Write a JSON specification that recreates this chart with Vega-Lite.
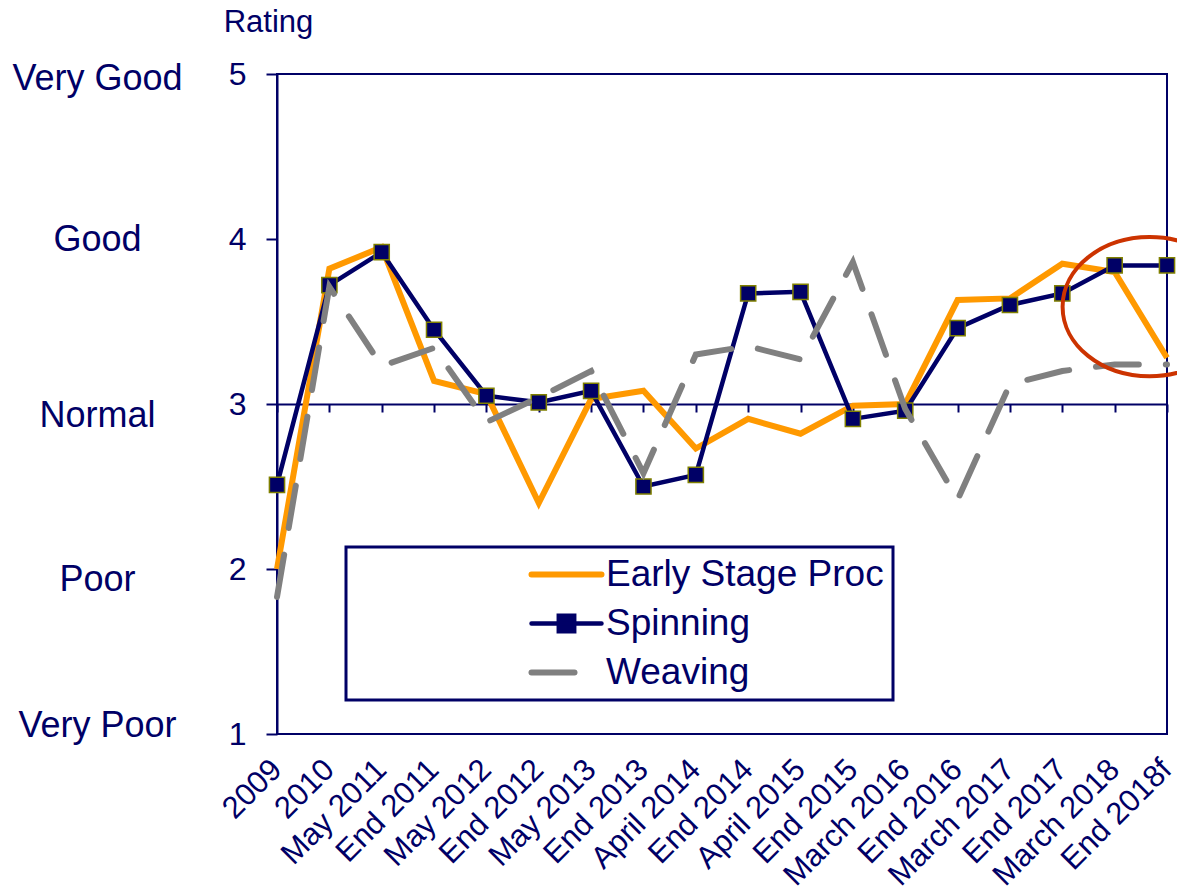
{
  "$schema": "https://vega.github.io/schema/vega-lite/v6.json",
  "width": 890,
  "height": 660,
  "autosize": {"type": "none"},
  "padding": {"left": 277, "top": 74, "right": 10, "bottom": 162},
  "background": "white",
  "config": {
    "font": "Liberation Sans",
    "view": {"stroke": "#000066", "strokeWidth": 2}
  },
  "datasets": {
    "ratings": [
      {"period": "2009", "series": "Early Stage Proc", "value": 2.0},
      {"period": "2010", "series": "Early Stage Proc", "value": 3.82},
      {"period": "May 2011", "series": "Early Stage Proc", "value": 3.95},
      {"period": "End 2011", "series": "Early Stage Proc", "value": 3.14},
      {"period": "May 2012", "series": "Early Stage Proc", "value": 3.06},
      {"period": "End 2012", "series": "Early Stage Proc", "value": 2.40},
      {"period": "May 2013", "series": "Early Stage Proc", "value": 3.03},
      {"period": "End 2013", "series": "Early Stage Proc", "value": 3.08},
      {"period": "April 2014", "series": "Early Stage Proc", "value": 2.73},
      {"period": "End 2014", "series": "Early Stage Proc", "value": 2.91},
      {"period": "April 2015", "series": "Early Stage Proc", "value": 2.82},
      {"period": "End 2015", "series": "Early Stage Proc", "value": 2.99},
      {"period": "March 2016", "series": "Early Stage Proc", "value": 3.0},
      {"period": "End 2016", "series": "Early Stage Proc", "value": 3.63},
      {"period": "March 2017", "series": "Early Stage Proc", "value": 3.64},
      {"period": "End 2017", "series": "Early Stage Proc", "value": 3.85},
      {"period": "March 2018", "series": "Early Stage Proc", "value": 3.80},
      {"period": "End 2018f", "series": "Early Stage Proc", "value": 3.28},
      {"period": "2009", "series": "Spinning", "value": 2.51},
      {"period": "2010", "series": "Spinning", "value": 3.72},
      {"period": "May 2011", "series": "Spinning", "value": 3.92},
      {"period": "End 2011", "series": "Spinning", "value": 3.45},
      {"period": "May 2012", "series": "Spinning", "value": 3.05},
      {"period": "End 2012", "series": "Spinning", "value": 3.01},
      {"period": "May 2013", "series": "Spinning", "value": 3.08},
      {"period": "End 2013", "series": "Spinning", "value": 2.50},
      {"period": "April 2014", "series": "Spinning", "value": 2.57},
      {"period": "End 2014", "series": "Spinning", "value": 3.67},
      {"period": "April 2015", "series": "Spinning", "value": 3.68},
      {"period": "End 2015", "series": "Spinning", "value": 2.91},
      {"period": "March 2016", "series": "Spinning", "value": 2.96},
      {"period": "End 2016", "series": "Spinning", "value": 3.46},
      {"period": "March 2017", "series": "Spinning", "value": 3.60},
      {"period": "End 2017", "series": "Spinning", "value": 3.67},
      {"period": "March 2018", "series": "Spinning", "value": 3.84},
      {"period": "End 2018f", "series": "Spinning", "value": 3.84},
      {"period": "2009", "series": "Weaving", "value": 1.83},
      {"period": "2010", "series": "Weaving", "value": 3.71},
      {"period": "May 2011", "series": "Weaving", "value": 3.23},
      {"period": "End 2011", "series": "Weaving", "value": 3.34},
      {"period": "May 2012", "series": "Weaving", "value": 2.89},
      {"period": "End 2012", "series": "Weaving", "value": 3.04},
      {"period": "May 2013", "series": "Weaving", "value": 3.20},
      {"period": "End 2013", "series": "Weaving", "value": 2.58},
      {"period": "April 2014", "series": "Weaving", "value": 3.30},
      {"period": "End 2014", "series": "Weaving", "value": 3.35},
      {"period": "April 2015", "series": "Weaving", "value": 3.27},
      {"period": "End 2015", "series": "Weaving", "value": 3.86},
      {"period": "March 2016", "series": "Weaving", "value": 2.97},
      {"period": "End 2016", "series": "Weaving", "value": 2.42},
      {"period": "March 2017", "series": "Weaving", "value": 3.12},
      {"period": "End 2017", "series": "Weaving", "value": 3.20},
      {"period": "March 2018", "series": "Weaving", "value": 3.24},
      {"period": "End 2018f", "series": "Weaving", "value": 3.24}
    ],
    "highlight": [
      {"period": "End 2018f", "value": 3.59}
    ]
  },
  "resolve": {"axis": {"y": "independent"}},
  "layer": [
    {
      "data": {"name": "ratings"},
      "transform": [{"filter": "datum.series === 'Early Stage Proc'"}],
      "mark": {"type": "line", "strokeWidth": 6, "strokeJoin": "miter"},
      "encoding": {
        "x": {
          "field": "period", "type": "ordinal",
          "scale": {"type": "point", "padding": 0, "domain": ["2009", "2010", "May 2011", "End 2011", "May 2012", "End 2012", "May 2013", "End 2013", "April 2014", "End 2014", "April 2015", "End 2015", "March 2016", "End 2016", "March 2017", "End 2017", "March 2018", "End 2018f"]},
          "axis": {
            "orient": "bottom", "offset": -330, "title": null,
            "domainColor": "#000066", "domainWidth": 2,
            "tickColor": "#000066", "tickWidth": 2, "tickSize": 8,
            "labelAngle": -45, "labelAlign": "right", "labelBaseline": "top",
            "labelFontSize": 31, "labelColor": "#000066", "labelPadding": 342,
            "labelOffset": -11,
            "labelOverlap": false, "labelBound": false, "grid": false
          }
        },
        "y": {
          "field": "value", "type": "quantitative",
          "scale": {"domain": [1, 5], "nice": false, "zero": false},
          "axis": {
            "orient": "left", "values": [1, 2, 3, 4, 5], "grid": false,
            "domainColor": "#000066", "domainWidth": 2,
            "tickColor": "#000066", "tickWidth": 2, "tickSize": 11,
            "labelFontSize": 32, "labelColor": "#000066", "labelPadding": 20,
            "title": "Rating", "titleAngle": 0, "titleFontSize": 31, "titleFontWeight": "normal",
            "titleColor": "#000066", "titleX": -9, "titleY": -52,
            "titleAlign": "center", "titleBaseline": "middle"
          }
        },
        "color": {
          "field": "series", "type": "nominal",
          "scale": {"domain": ["Early Stage Proc", "Spinning", "Weaving"], "range": ["#FF9900", "#000066", "#808080"]},
          "legend": {
            "title": null, "orient": "none", "legendX": 69, "legendY": 473,
            "fillColor": "white", "strokeColor": "#000066",
            "padding": 9, "symbolType": "M-2.5,0H2.5", "symbolSize": 784,
            "symbolOffset": 193, "labelOffset": 21, "rowPadding": 11,
            "labelFontSize": 37, "labelColor": "#000066", "labelLimit": 500,
            "encode": {
              "legend": {"update": {"strokeWidth": {"value": 3}}},
              "symbols": {
                "update": {
                  "shape": {"signal": "datum.value === 'Spinning' ? 'M-2.5,0H2.5M-0.55,-0.55H0.55V0.55H-0.55Z' : 'M-2.5,0H2.5'"},
                  "fill": {"signal": "datum.value === 'Spinning' ? '#000066' : 'transparent'"},
                  "stroke": {"signal": "datum.value === 'Early Stage Proc' ? '#FF9900' : (datum.value === 'Spinning' ? '#000066' : '#808080')"},
                  "strokeWidth": {"signal": "datum.value === 'Spinning' ? 4.5 : 6"},
                  "strokeDash": {"signal": "datum.value === 'Weaving' ? [43, 27] : [1, 0]"},
                  "strokeCap": {"value": "round"},
                  "opacity": {"value": 1}
                }
              }
            }
          }
        }
      }
    },
    {
      "data": {"name": "ratings"},
      "transform": [{"filter": "datum.series === 'Spinning'"}],
      "mark": {"type": "line", "strokeWidth": 4.5},
      "encoding": {
        "x": {"field": "period", "type": "ordinal"},
        "y": {"field": "value", "type": "quantitative", "axis": null},
        "color": {"field": "series", "type": "nominal"}
      }
    },
    {
      "data": {"name": "ratings"},
      "transform": [{"filter": "datum.series === 'Spinning'"}],
      "mark": {"type": "point", "shape": "square", "filled": true, "fill": "#000066", "stroke": "#808000", "strokeWidth": 1.5, "size": 230, "opacity": 1},
      "encoding": {
        "x": {"field": "period", "type": "ordinal"},
        "y": {"field": "value", "type": "quantitative", "axis": null}
      }
    },
    {
      "data": {"name": "ratings"},
      "transform": [{"filter": "datum.series === 'Weaving'"}],
      "mark": {"type": "line", "strokeWidth": 6, "strokeDash": [43, 27], "strokeCap": "round"},
      "encoding": {
        "x": {"field": "period", "type": "ordinal"},
        "y": {"field": "value", "type": "quantitative", "axis": null},
        "color": {"field": "series", "type": "nominal"}
      }
    },
    {
      "data": {"name": "highlight"},
      "mark": {"type": "point", "shape": "M-1.2,0A1,0.8 0 1,0 0.8,0A1,0.8 0 1,0 -1.2,0", "filled": false, "stroke": "#CC3300", "strokeWidth": 4, "size": 30276, "opacity": 1},
      "encoding": {
        "x": {"field": "period", "type": "ordinal"},
        "y": {
          "field": "value", "type": "quantitative",
          "axis": {
            "orient": "left", "values": [1, 2, 3, 4, 5], "offset": 180, "grid": false,
            "domain": false, "ticks": false, "tickSize": 0, "labelPadding": 0,
            "labelAlign": "center", "labelBaseline": "middle",
            "labelFontSize": 36, "labelColor": "#000066", "title": null,
            "labelOffset": {"condition": [
              {"test": "datum.value == 5", "value": 4},
              {"test": "datum.value == 3", "value": 11},
              {"test": "datum.value == 2", "value": 10},
              {"test": "datum.value == 1", "value": -9}
            ], "value": 0},
            "labelExpr": "datum.value == 5 ? 'Very Good' : datum.value == 4 ? 'Good' : datum.value == 3 ? 'Normal' : datum.value == 2 ? 'Poor' : 'Very Poor'"
          }
        }
      }
    }
  ]
}
